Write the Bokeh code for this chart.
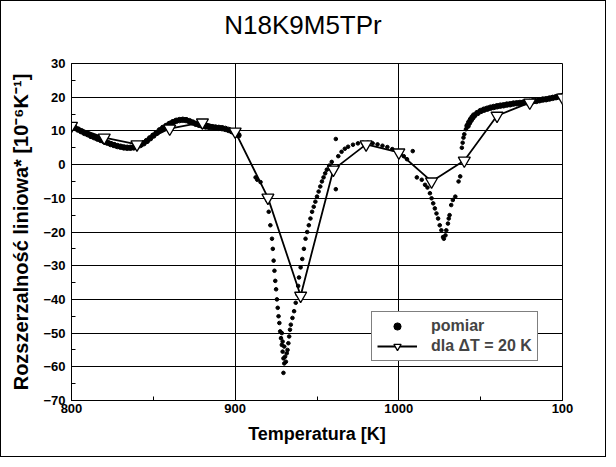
from bokeh.plotting import figure
from bokeh.layouts import column
from bokeh.models import Range1d, SingleIntervalTicker, FixedTicker, Legend, LegendItem, Div
from bokeh.embed import file_html
from bokeh.resources import INLINE

# ---- data ----
title_text = "N18K9M5TPr"
x_title = "Temperatura [K]"
y_title = "Rozszerzalność liniowa* [10⁻⁶K⁻¹]"
legend_meas = "pomiar"
legend_calc = "dla ΔT = 20 K"

# computed curve (triangles), every 20 K
t_calc = [800, 820, 840, 860, 880, 900, 920, 940, 960, 980, 1000, 1020, 1040, 1060, 1080, 1100]
v_calc = [11.5, 8.0, 6.0, 10.7, 12.5, 9.8, -9.8, -38.9, -1.5, 6.0, 3.6, -5.0, 1.2, 14.5, 18.4, 19.9]

# measured points (dots) - densely packed stretches
t_meas_dense = [800, 802, 804, 806, 808, 810, 812, 814, 816, 818, 820, 822, 824, 826, 828, 830,
                832, 834, 836, 838, 840, 842, 844, 846, 848, 850, 852, 854, 856, 858, 860, 862,
                864, 866, 868, 870, 872, 874, 876, 878, 880, 882, 884, 886, 888, 890, 892, 894,
                896, 898, 900, 902,
                1042, 1043, 1044, 1045, 1046, 1048, 1050, 1052,
                1054, 1056, 1058, 1060, 1062, 1064, 1066, 1068, 1070, 1072, 1074, 1076, 1078,
                1080, 1082, 1084, 1086, 1088, 1090, 1092, 1094, 1096, 1098, 1100]
v_meas_dense = [11.4, 10.9, 10.4, 9.9, 9.4, 9.0, 8.5, 8.1, 7.7, 7.3, 6.9, 6.5, 6.1, 5.8, 5.5, 5.3,
                5.1, 5.0, 5.0, 5.1, 5.4, 5.8, 6.3, 7.0, 7.8, 8.6, 9.4, 10.2, 10.9, 11.5, 12.1, 12.6,
                13.0, 13.2, 13.3, 13.2, 12.9, 12.5, 12.1, 11.8, 11.5, 11.3, 11.2, 11.1, 11.0, 10.9, 10.8, 10.6,
                10.3, 9.9, 9.4, 8.7,
                11.5, 12.5, 13.3, 14.0, 14.6, 15.3, 15.9, 16.3,
                16.6, 16.9, 17.1, 17.3, 17.5, 17.6, 17.8, 17.9, 18.1, 18.2, 18.3, 18.4, 18.5,
                18.6, 18.8, 18.9, 19.1, 19.3, 19.4, 19.6, 19.8, 20.0, 20.2, 20.4]

# measured points (dots) - sparse stretches (the two dips)
t_meas_sparse = [912.5, 913.5, 915.5,
                 919.5, 920.5, 921.5, 922.5, 923, 923.5, 924, 924.5, 925, 925.5, 926, 926.5, 927,
                 927.5, 928, 928.5, 929, 929.5, 930, 929.5, 928.5, 929, 930, 930.5, 931, 931.5,
                 932, 932.5, 933, 933.5, 934, 935, 936, 937, 938, 938.5, 939, 940, 941, 942, 943,
                 944, 945, 946, 947, 948, 949, 950, 951, 952, 953, 954, 955, 956, 957.5, 959,
                 961.5, 961.5, 963, 965, 967, 969, 972, 975, 978, 981, 984, 987, 990, 993, 996,
                 999, 1001, 1003, 1005, 1008.5,
                 1011, 1014, 1016, 1017.5, 1019, 1020, 1021, 1022, 1023, 1024, 1025, 1026, 1027,
                 1027.5, 1028.5, 1029, 1030, 1030.5, 1031, 1032, 1033, 1034.5, 1036.5, 1037.5,
                 1038.5, 1039, 1039.5, 1040, 1041]
v_meas_sparse = [-3.8, -4.5, -5.2,
                 -10.5, -14.0, -18.0, -22.0, -25.0, -28.5, -31.5, -34.5, -37.0, -40.0, -42.5, -45.0, -47.0,
                 -49.5, -51.5, -53.5, -55.5, -57.5, -59.0, -61.8, -50.0, -52.5, -54.0, -57.0, -58.5, -56.0,
                 -55.0, -53.0, -51.0, -49.0, -47.5, -45.5, -43.5, -41.0, -38.5, -36.0, -33.5, -30.5, -28.0, -25.0, -22.0,
                 -20.0, -18.0, -16.0, -14.0, -12.5, -11.0, -9.5, -8.0, -6.5, -5.0, -3.8, -2.6, -1.5, -0.3, 0.8,
                 7.6, -7.3, 2.5, 3.8, 4.7, 5.3, 5.9, 6.3, 6.5, 6.5, 6.3, 6.0, 5.6, 5.2, 4.6,
                 4.0, 3.2, 2.5, 1.6, 4.0,
                 -3.8, -4.5, -6.0, -6.8, -8.5, -10.0, -11.5, -13.0, -14.5, -16.0, -18.0, -19.5, -21.5,
                 -22.0, -21.0, -19.5, -17.5, -16.0, -15.0, -12.0, -10.5, -9.5, -5.0, -3.5,
                 5.0, 6.5, 8.0, 9.0, 10.5]

x_ticks_labels = {1100: "100"}

# ---- title strip ----
header = Div(text=title_text, width=604, height=40, margin=0,
             styles={"font-family": "Liberation Sans, Arial, sans-serif", "font-size": "26px",
                     "line-height": "1", "color": "black", "text-align": "center",
                     "padding-top": "11px", "box-sizing": "border-box", "background": "white"})

# ---- figure ----
p = figure(width=604, height=415, output_backend="svg", toolbar_location=None,
           x_range=Range1d(800, 1100), y_range=Range1d(-70, 30),
           min_border_left=70, min_border_right=43, min_border_top=22, min_border_bottom=56,
           background_fill_color="white", border_fill_color="white", margin=0)
p.title.text = ""
p.title.standoff = 0

p.outline_line_color = "black"
p.outline_line_width = 1

p.xaxis.ticker = SingleIntervalTicker(interval=100, num_minor_ticks=2)
p.yaxis.ticker = SingleIntervalTicker(interval=10, num_minor_ticks=2)
p.xaxis.major_label_overrides = x_ticks_labels

for ax in (p.xaxis[0], p.yaxis[0]):
    ax.axis_line_color = "black"
    ax.major_tick_in = 0
    ax.major_tick_out = 0
    ax.minor_tick_in = 4
    ax.minor_tick_out = 0
    ax.minor_tick_line_color = "black"
    ax.major_label_text_font = "Liberation Sans"
    ax.major_label_text_font_style = "bold"
    ax.major_label_text_font_size = "13px"
    ax.major_label_text_color = "black"
    ax.axis_label_text_font = "Liberation Sans"
    ax.axis_label_text_font_style = "bold"
    ax.axis_label_text_color = "black"

p.xaxis.axis_label = x_title
p.yaxis.axis_label = y_title
p.xaxis.axis_label_text_font_size = "18px"
p.yaxis.axis_label_text_font_size = "20px"
p.xaxis.major_label_standoff = 3
p.yaxis.major_label_standoff = 6
p.xaxis.axis_label_standoff = 8
p.yaxis.axis_label_standoff = 8

p.xgrid.ticker = FixedTicker(ticks=[900, 1000])
p.xgrid.grid_line_color = "black"
p.ygrid.grid_line_color = "black"
p.xgrid.grid_line_width = 1
p.ygrid.grid_line_width = 1

r_band = p.scatter(t_meas_dense, v_meas_dense, marker="circle", size=5.5, color="black")
r_dots = p.scatter(t_meas_sparse, v_meas_sparse, marker="circle", size=3.6, color="black")
r_line = p.line(t_calc, v_calc, line_width=1.8, color="black")
r_tri = p.scatter(t_calc, v_calc, marker="inverted_triangle", size=12,
                  fill_color="white", line_color="black", line_width=1.3)

legend = Legend(items=[LegendItem(label=legend_meas, renderers=[r_dots]),
                       LegendItem(label=legend_calc, renderers=[r_line, r_tri])],
                location=(300, 39))
legend.border_line_color = "black"
legend.border_line_width = 1
legend.background_fill_color = "white"
legend.background_fill_alpha = 1
legend.label_text_font = "Liberation Sans"
legend.label_text_font_style = "bold"
legend.label_text_font_size = "16px"
legend.glyph_width = 40
legend.glyph_height = 18
legend.label_height = 18
legend.label_standoff = 14
legend.spacing = 2
legend.padding = 5
legend.margin = 0
p.add_layout(legend)

page = column(header, p, spacing=0, margin=0,
              styles={"border": "1px solid black", "background": "white"})

open("out.html", "w").write(file_html(page, INLINE))
